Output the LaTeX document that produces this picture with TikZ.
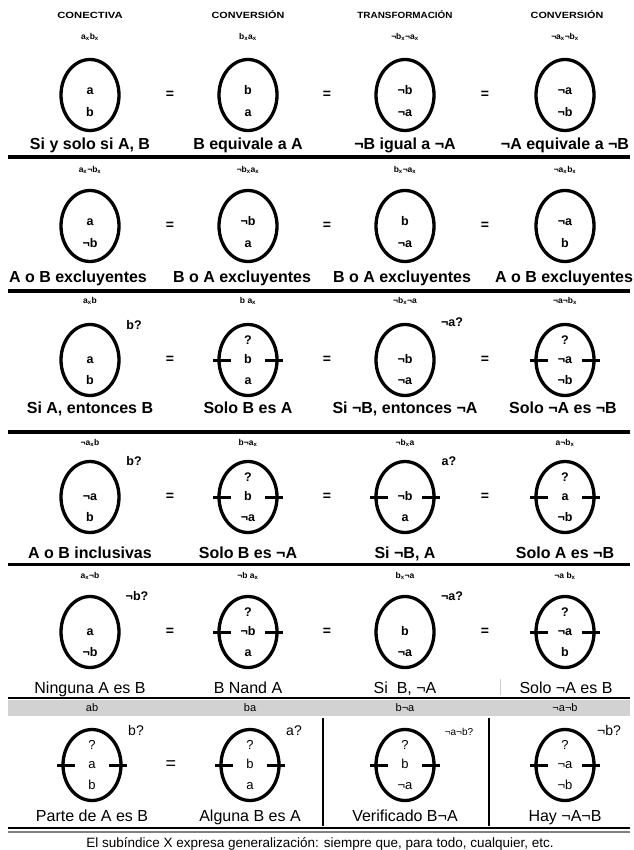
\documentclass[tikz,border=0pt]{standalone}
\usepackage{fontspec}
\setmainfont{Liberation Sans}
\usetikzlibrary{shapes.geometric}
\newcommand{\sbx}{\textsubscript{x}}
\begin{document}
\begin{tikzpicture}[x=1pt,y=-1pt,
  oval/.style={draw,ellipse,line width=3.3pt,minimum width=58pt,minimum height=71pt,inner sep=0pt},
  bar/.style={line width=3pt},
  rowrule/.style={line width=3.5pt},
  hdr/.style={font=\bfseries\fontsize{9}{9}\selectfont},
  sublbl/.style={font=\bfseries\fontsize{8.5}{9}\selectfont},
  lbl/.style={font=\bfseries\fontsize{12.5}{13}\selectfont,text height=1.5ex,text depth=.25ex},
  capt/.style={anchor=base,font=\bfseries\fontsize{16}{17}\selectfont},
  eqsign/.style={font=\bfseries\fontsize{14}{15}\selectfont},
  rlbl/.style={font=\fontsize{13}{14}\selectfont,text height=1.5ex,text depth=.25ex},
  rcapt/.style={anchor=base,font=\fontsize{16}{17}\selectfont}]
\useasboundingbox[fill=white] (0,0) rectangle (633,850);
% column headers
\node[hdr] (h1) at (90,15) {\scalebox{1.25}[1]{CONECTIVA}};
\node[hdr] (h2) at (248,15) {\scalebox{1.2}[1]{CONVERSIÓN}};
\node[hdr] (h3) at (405,15) {\scalebox{1.1}[1]{TRANSFORMACIÓN}};
\node[hdr] (h4) at (567,15) {\scalebox{1.2}[1]{CONVERSIÓN}};
% row 1
\foreach \c/\x/\s/\t/\b/\cp in {1/90/{a\sbx b\sbx}/a/b/{Si y solo si A, B},
    2/248/{b\sbx a\sbx}/b/a/{B equivale a A},
    3/405/{¬b\sbx¬a\sbx}/¬b/¬a/{¬B igual a ¬A},
    4/565/{¬a\sbx¬b\sbx}/¬a/¬b/{¬A equivale a ¬B}}{
  \node[oval] (e1\c) at (\x,95) {};
  \node[sublbl] (s1\c) at (\x,37) {\s};
  \node[lbl] at ([yshift=4pt]e1\c.center) {\t};
  \node[lbl] at ([yshift=-18pt]e1\c.center) {\b};
  \node[capt] (c1\c) at (\x,150) {\cp};
}
\draw[rowrule] (8,157) -- (630,157);
% row 2
\foreach \c/\x/\s/\t/\b in {1/90/{a\sbx¬b\sbx}/a/¬b, 2/248/{¬b\sbx a\sbx}/¬b/a,
    3/405/{b\sbx¬a\sbx}/b/¬a, 4/565/{¬a\sbx b\sbx}/¬a/b}{
  \node[oval] (e2\c) at (\x,226) {};
  \node[sublbl] (s2\c) at (\x,170) {\s};
  \node[lbl] at ([yshift=4pt]e2\c.center) {\t};
  \node[lbl] at ([yshift=-18pt]e2\c.center) {\b};
}
\node[capt] (c21) at (78,282) {A o B excluyentes};
\node[capt] (c22) at (242,282) {B o A excluyentes};
\node[capt] (c23) at (402,282) {B o A excluyentes};
\node[capt] (c24) at (564,282) {A o B excluyentes};
\draw[rowrule] (8,291) -- (630,291);
% row 3
\foreach \c/\x/\s in {1/90/{a\sbx b}, 2/248/{b a\sbx}, 3/405/{¬b\sbx¬a}, 4/565/{¬a¬b\sbx}}{
  \node[oval] (e3\c) at (\x,360) {};
  \node[sublbl] (s3\c) at (\x,301) {\s};
}
\node[lbl] at (e31.center) {a};
\node[lbl] at ([yshift=-21pt]e31.center) {b};
\node[lbl] at ([shift={(44,-34)}]e31.center) {b?};
\node[lbl] at ([yshift=19pt]e32.center) {?};
\node[lbl] at (e32.center) {b};
\node[lbl] at ([yshift=-21pt]e32.center) {a};
\node[lbl] at (e33.center) {¬b};
\node[lbl] at ([yshift=-21pt]e33.center) {¬a};
\node[lbl] at ([shift={(47,-37)}]e33.center) {¬a?};
\node[lbl] at ([yshift=19pt]e34.center) {?};
\node[lbl] at (e34.center) {¬a};
\node[lbl] at ([yshift=-21pt]e34.center) {¬b};
\node[capt] (c31) at (90,413) {Si A, entonces B};
\node[capt] (c32) at (248,413) {Solo B es A};
\node[capt] (c33) at (405,413) {Si ¬B, entonces ¬A};
\node[capt] (c34) at (563,413) {Solo ¬A es ¬B};
\draw[rowrule] (8,432) -- (630,432);
% row 4
\foreach \c/\x/\s in {1/90/{¬a\sbx b}, 2/248/{b¬a\sbx}, 3/405/{¬b\sbx a}, 4/565/{a¬b\sbx}}{
  \node[oval] (e4\c) at (\x,497) {};
  \node[sublbl] (s4\c) at (\x,443) {\s};
}
\node[lbl] at (e41.center) {¬a};
\node[lbl] at ([yshift=-21pt]e41.center) {b};
\node[lbl] at ([shift={(44,-35)}]e41.center) {b?};
\node[lbl] at ([yshift=19pt]e42.center) {?};
\node[lbl] at (e42.center) {b};
\node[lbl] at ([yshift=-21pt]e42.center) {¬a};
\node[lbl] at (e43.center) {¬b};
\node[lbl] at ([yshift=-21pt]e43.center) {a};
\node[lbl] at ([shift={(44,-35)}]e43.center) {a?};
\node[lbl] at ([yshift=19pt]e44.center) {?};
\node[lbl] at (e44.center) {a};
\node[lbl] at ([yshift=-21pt]e44.center) {¬b};
\node[capt] (c41) at (90,558) {A o B inclusivas};
\node[capt] (c42) at (248,558) {Solo B es ¬A};
\node[capt] (c43) at (405,558) {Si ¬B, A};
\node[capt] (c44) at (565,558) {Solo A es ¬B};
\draw[line width=3pt] (8,564) -- (630,564);
% row 5
\foreach \c/\x/\s in {1/90/{a\sbx¬b}, 2/248/{¬b a\sbx}, 3/405/{b\sbx¬a}, 4/565/{¬a b\sbx}}{
  \node[oval] (e5\c) at (\x,632) {};
  \node[sublbl] (s5\c) at (\x,576) {\s};
}
\node[lbl] at (e51.center) {a};
\node[lbl] at ([yshift=-21pt]e51.center) {¬b};
\node[lbl] at ([shift={(47,-35)}]e51.center) {¬b?};
\node[lbl] at ([yshift=19pt]e52.center) {?};
\node[lbl] at (e52.center) {¬b};
\node[lbl] at ([yshift=-21pt]e52.center) {a};
\node[lbl] at (e53.center) {b};
\node[lbl] at ([yshift=-21pt]e53.center) {¬a};
\node[lbl] at ([shift={(47,-35)}]e53.center) {¬a?};
\node[lbl] at ([yshift=19pt]e54.center) {?};
\node[lbl] at (e54.center) {¬a};
\node[lbl] at ([yshift=-21pt]e54.center) {b};
\node[rcapt] (c51) at (90,693) {Ninguna A es B};
\node[rcapt] (c52) at (248,693) {B Nand A};
\node[rcapt] (c53) at (405,693) {Si~ B, ¬A};
\node[rcapt] (c54) at (566,693) {Solo ¬A es B};
\draw[gray!40,line width=0.8pt] (500,679) -- (500,695);
\draw[line width=2.5pt] (8,698) -- (630,698);
% row 6
\fill[gray!35] (8,700) rectangle (630,716);
\foreach \c/\x/\s/\m/\b/\o in {1/92/ab/a/b/b?, 2/250/ba/b/a/a?, 3/405/b¬a/b/¬a/{}, 4/565/¬a¬b/¬a/¬b/¬b?}{
  \node[oval] (e6\c) at (\x,765) {};
  \node[rlbl,font=\fontsize{11}{12}\selectfont] (s6\c) at (\x,708) {\s};
  \node[rlbl] at ([yshift=19pt]e6\c.center) {?};
  \node[rlbl] at (e6\c.center) {\m};
  \node[rlbl] at ([yshift=-21pt]e6\c.center) {\b};
  \node[rlbl,font=\fontsize{14}{15}\selectfont] at ([shift={(44,-33)}]e6\c.center) {\o};
}
\node[font=\fontsize{10}{11}\selectfont] at ([shift={(54,-33)}]e63.center) {¬a¬b?};
\node[font=\fontsize{18}{18}\selectfont] (q61) at (171,765) {=};
\draw[line width=2pt] (323,718) -- (323,826);
\draw[line width=2pt] (489,718) -- (489,826);
\node[rcapt] (c61) at (92,821) {Parte de A es B};
\node[rcapt] (c62) at (250,821) {Alguna B es A};
\node[rcapt] (c63) at (405,821) {Verificado B¬A};
\node[rcapt] (c64) at (565,821) {Hay ¬A¬B};
\draw[line width=2pt] (8,828) -- (630,828);
\draw[gray,line width=1.5pt] (8,832) -- (630,832);
\node[font=\fontsize{13.5}{14}\selectfont] (note) at (320,844) {El subíndice X expresa generalización: siempre que, para todo, cualquier, etc.};
% equal signs and bars
\foreach \r/\y in {1/95,2/226,3/360,4/497,5/632}{
  \foreach \x in {170,327,485}
    \node[eqsign] at (\x,\y) {=};
}
\foreach \e in {e32,e34,e42,e43,e44,e52,e54,e61,e62,e63,e64}{
  \draw[bar] ([xshift=-4pt]\e.west) -- ++(18,0);
  \draw[bar] ([xshift=4pt]\e.east) -- ++(-18,0);
}
\end{tikzpicture}
\end{document}
